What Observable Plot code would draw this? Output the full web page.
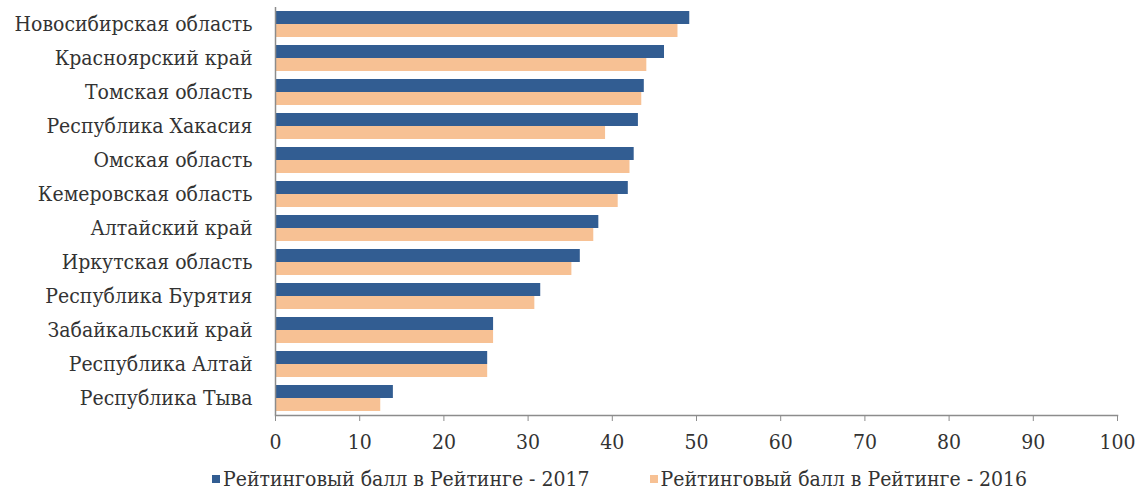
<!DOCTYPE html>
<html>
<head>
<meta charset="utf-8">
<script src="https://cdn.jsdelivr.net/npm/d3@7"></script>
<script src="https://cdn.jsdelivr.net/npm/@observablehq/plot@0.6"></script>
<style>
  html, body { margin: 0; padding: 0; background: #fff; }
  #chart { width: 1143px; }
  .legend { display: flex; justify-content: flex-start; font-family: "DejaVu Serif Condensed", "DejaVu Serif", serif; font-stretch: condensed; font-size: 21px; color: #333; height: 31px; align-items: center; padding-left: 212px; padding-top: 5px; }
  .legend .item { display: flex; align-items: center; }
  .legend .sw { width: 8px; height: 8px; margin-right: 3px; }
  svg text { font-stretch: condensed; }
</style>
</head>
<body>
<div id="chart"></div>
<script>
const regions = [
  "Новосибирская область",
  "Красноярский край",
  "Томская область",
  "Республика Хакасия",
  "Омская область",
  "Кемеровская область",
  "Алтайский край",
  "Иркутская область",
  "Республика Бурятия",
  "Забайкальский край",
  "Республика Алтай",
  "Республика Тыва"
];
const values2017 = [49.2, 46.2, 43.8, 43.1, 42.6, 41.9, 38.4, 36.2, 31.5, 25.9, 25.2, 14.0];
const values2016 = [47.8, 44.1, 43.5, 39.2, 42.1, 40.7, 37.8, 35.2, 30.8, 25.9, 25.2, 12.5];
const seriesLabels = ["Рейтинговый балл в Рейтинге - 2017", "Рейтинговый балл в Рейтинге - 2016"];
const seriesColors = ["#325d92", "#f7c194"];
const xTicks = [0, 10, 20, 30, 40, 50, 60, 70, 80, 90, 100];

const rows = [];
regions.forEach((r, i) => {
  rows.push({region: r, series: seriesLabels[0], value: values2017[i]});
  rows.push({region: r, series: seriesLabels[1], value: values2016[i]});
});

const fam = "'DejaVu Serif Condensed', 'DejaVu Serif', serif";
const chart = Plot.plot({
  width: 1143,
  height: 458,
  marginLeft: 275,
  marginRight: 26,
  marginTop: 3,
  marginBottom: 40,
  style: {fontFamily: fam, fontSize: "21px", color: "#333", background: "#fff"},
  fy: {domain: regions, padding: 0, label: null},
  y: {domain: seriesLabels, paddingInner: 0, paddingOuter: 0.28, axis: null},
  x: {domain: [0, 100], label: null},
  color: {domain: seriesLabels, range: seriesColors},
  marks: [
    Plot.barX(rows, {fy: "region", y: "series", x: "value", fill: "series"}),
    Plot.ruleX([0], {stroke: "#8c8c8c", strokeWidth: 1.5}),
    Plot.frame({anchor: "bottom", facetAnchor: "bottom", stroke: "#8c8c8c", strokeWidth: 1.5}),
    Plot.axisX({ticks: xTicks, tickSize: 6, tickPadding: 13, stroke: "#8c8c8c", label: null, fontSize: 21}),
    Plot.axisFy({anchor: "left", tickSize: 0, tickPadding: 23, label: null, fontSize: 21})
  ]
});
document.getElementById("chart").appendChild(chart);

const legend = document.createElement("div");
legend.className = "legend";
seriesLabels.forEach((s, i) => {
  const item = document.createElement("div");
  item.className = "item";
  if (i > 0) item.style.marginLeft = "60px";
  const sw = document.createElement("span");
  sw.className = "sw";
  sw.style.background = seriesColors[i];
  const t = document.createElement("span");
  t.textContent = s;
  item.appendChild(sw);
  item.appendChild(t);
  legend.appendChild(item);
});
document.getElementById("chart").appendChild(legend);
</script>
</body>
</html>
